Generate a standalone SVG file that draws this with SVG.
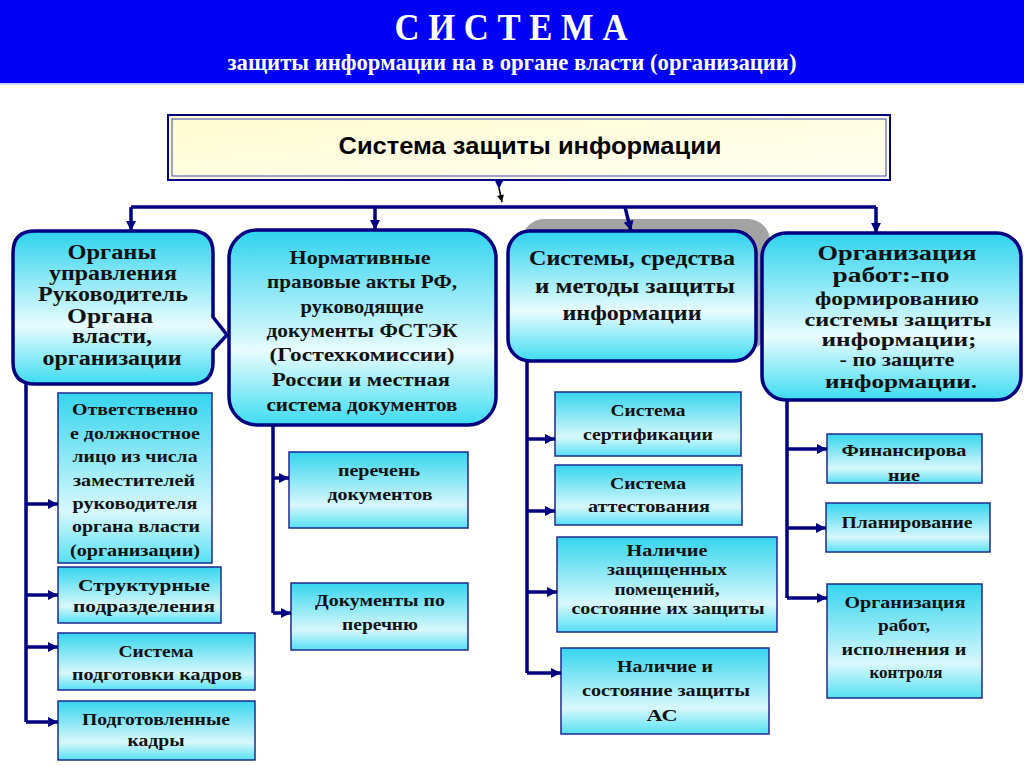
<svg xmlns="http://www.w3.org/2000/svg" width="1024" height="767" viewBox="0 0 1024 767">
<defs>
<linearGradient id="gMain" x1="0" y1="0" x2="0" y2="1">
<stop offset="0" stop-color="#2ED3EE"/>
<stop offset="0.62" stop-color="#E8FCFE"/>
<stop offset="1" stop-color="#3DDCF2"/>
</linearGradient>
<linearGradient id="gSmall" x1="0" y1="0" x2="0" y2="1">
<stop offset="0" stop-color="#35D5EE"/>
<stop offset="0.7" stop-color="#D8F8FC"/>
<stop offset="1" stop-color="#55E0F3"/>
</linearGradient>
<linearGradient id="gTop" x1="0" y1="0" x2="1" y2="1">
<stop offset="0" stop-color="#FFFBD0"/>
<stop offset="1" stop-color="#FFFFF2"/>
</linearGradient>
<marker id="arr" viewBox="0 0 10 10" refX="10" refY="5" markerWidth="11" markerHeight="10" markerUnits="userSpaceOnUse" orient="auto">
<path d="M0,0 L10,5 L0,10 z" fill="#000080"/>
</marker>
<marker id="arrB" viewBox="0 0 10 10" refX="10" refY="5" markerWidth="8" markerHeight="7" markerUnits="userSpaceOnUse" orient="auto">
<path d="M0,0 L10,5 L0,10 z" fill="#000"/>
</marker>
</defs>
<style>
.main{fill:url(#gMain);stroke:#000080;stroke-width:3.5}
.small{fill:url(#gSmall);stroke:#1E2A90;stroke-width:1.5}
.ts{font-family:"Liberation Serif","Times New Roman",serif;font-weight:bold;fill:#111;text-anchor:middle}
.s{font-size:17.5px}
.r3{font-size:16.5px}
.b2{font-size:19.5px}
.b3{font-size:22px}
.b4{font-size:18px}
.b1{font-size:20px}
.con{stroke:#000080;stroke-width:3.5;fill:none}
</style>
<rect x="0" y="0" width="1024" height="767" fill="#fff"/>
<g id="header">
<rect x="0" y="0" width="1024" height="83" fill="#0000F5"/>
<rect x="0" y="83" width="1024" height="2" fill="#C8D0F8"/>
<text x="511" y="40" font-family="Liberation Serif,serif" font-weight="bold" font-size="37" fill="#fff" text-anchor="middle" textLength="233" lengthAdjust="spacingAndGlyphs">С И С Т Е М А</text>
<text x="512" y="70" font-family="Liberation Serif,serif" font-weight="bold" font-size="24" fill="#fff" text-anchor="middle" textLength="569" lengthAdjust="spacingAndGlyphs">защиты информации на в органе власти (организации)</text>
</g>
<g id="top">
<rect x="168" y="115" width="722" height="65" fill="url(#gTop)" stroke="#000080" stroke-width="2"/>
<rect x="172" y="119" width="714" height="57" fill="none" stroke="#3A4AA8" stroke-width="1"/>
<text x="530" y="154" font-family="Liberation Sans,Arial,sans-serif" font-weight="bold" font-size="23" fill="#000" text-anchor="middle" textLength="383" lengthAdjust="spacingAndGlyphs">Система защиты информации</text>
</g>
<g id="box1">
<path class="main" d="M35,231 H191 Q213,231 213,253 V317 L227,335 L213,350 V362 Q213,384 191,384 H35 Q13,384 13,362 V253 Q13,231 35,231 Z"/>
<text class="ts b1" x="112" y="259" textLength="89" lengthAdjust="spacingAndGlyphs">Органы</text>
<text class="ts b1" x="113" y="280" textLength="128" lengthAdjust="spacingAndGlyphs">управления</text>
<text class="ts b1" x="113" y="301" textLength="150" lengthAdjust="spacingAndGlyphs">Руководитель</text>
<text class="ts b1" x="110" y="323" textLength="86" lengthAdjust="spacingAndGlyphs">Органа</text>
<text class="ts b1" x="112" y="343" textLength="80" lengthAdjust="spacingAndGlyphs">власти,</text>
<text class="ts b1" x="112" y="365" textLength="139" lengthAdjust="spacingAndGlyphs">организации</text>
</g>
<g id="box2">
<rect class="main" x="229" y="230" width="267" height="195" rx="28"/>
<text class="ts b2" x="360" y="264" textLength="141" lengthAdjust="spacingAndGlyphs">Нормативные</text>
<text class="ts b2" x="362" y="288" textLength="190" lengthAdjust="spacingAndGlyphs">правовые акты РФ,</text>
<text class="ts b2" x="362" y="313" textLength="123" lengthAdjust="spacingAndGlyphs">руководящие</text>
<text class="ts b2" x="362" y="337" textLength="191" lengthAdjust="spacingAndGlyphs">документы ФСТЭК</text>
<text class="ts b2" x="362" y="361" textLength="185" lengthAdjust="spacingAndGlyphs">(Гостехкомиссии)</text>
<text class="ts b2" x="361" y="386" textLength="178" lengthAdjust="spacingAndGlyphs">России и  местная</text>
<text class="ts b2" x="362" y="411" textLength="191" lengthAdjust="spacingAndGlyphs">система документов</text>
</g>
<g id="box3">
<rect x="522" y="219" width="248" height="130" rx="22" fill="#A3A3A3"/>
<rect class="main" x="508" y="231" width="248" height="130" rx="22"/>
<text class="ts b3" x="632" y="265" textLength="206" lengthAdjust="spacingAndGlyphs">Системы, средства</text>
<text class="ts b3" x="635" y="293" textLength="200" lengthAdjust="spacingAndGlyphs">и методы защиты</text>
<text class="ts b3" x="632" y="320" textLength="139" lengthAdjust="spacingAndGlyphs">информации</text>
</g>
<g id="box4">
<rect class="main" x="762" y="233" width="259" height="167" rx="24"/>
<text class="ts" font-size="21" x="897" y="260" textLength="159" lengthAdjust="spacingAndGlyphs">Организация</text>
<text class="ts" font-size="20" x="891" y="282" textLength="117" lengthAdjust="spacingAndGlyphs">работ:-по</text>
<text class="ts b4" x="897" y="305" textLength="164" lengthAdjust="spacingAndGlyphs">формированию</text>
<text class="ts b4" x="898" y="326" textLength="187" lengthAdjust="spacingAndGlyphs">системы защиты</text>
<text class="ts b4" x="899" y="346" textLength="155" lengthAdjust="spacingAndGlyphs">информации;</text>
<text class="ts b4" x="897" y="366" textLength="115" lengthAdjust="spacingAndGlyphs">- по защите</text>
<text class="ts b4" x="901" y="388" textLength="152" lengthAdjust="spacingAndGlyphs">информации.</text>
</g>
<g id="l1">
<rect class="small" x="58" y="393" width="154" height="170"/>
<text class="ts s" x="135" y="415" textLength="126" lengthAdjust="spacingAndGlyphs">Ответственно</text>
<text class="ts s" x="135" y="439" textLength="130" lengthAdjust="spacingAndGlyphs">е должностное</text>
<text class="ts s" x="135" y="462" textLength="125" lengthAdjust="spacingAndGlyphs">лицо из числа</text>
<text class="ts s" x="134" y="486" textLength="122" lengthAdjust="spacingAndGlyphs">заместителей</text>
<text class="ts s" x="135" y="509" textLength="125" lengthAdjust="spacingAndGlyphs">руководителя</text>
<text class="ts s" x="136" y="532" textLength="128" lengthAdjust="spacingAndGlyphs">органа власти</text>
<text class="ts s" x="135" y="556" textLength="130" lengthAdjust="spacingAndGlyphs">(организации)</text>
</g>
<g id="l2">
<rect class="small" x="58" y="567" width="163" height="56"/>
<text class="ts s" x="144" y="591" textLength="132" lengthAdjust="spacingAndGlyphs">Структурные</text>
<text class="ts s" x="144" y="612" textLength="142" lengthAdjust="spacingAndGlyphs">подразделения</text>
</g>
<g id="l3">
<rect class="small" x="58" y="633" width="197" height="57"/>
<text class="ts s" x="156" y="657" textLength="75" lengthAdjust="spacingAndGlyphs">Система</text>
<text class="ts s" x="157" y="680" textLength="170" lengthAdjust="spacingAndGlyphs">подготовки кадров</text>
</g>
<g id="l4">
<rect class="small" x="58" y="701" width="197" height="59"/>
<text class="ts s" x="156" y="725" textLength="148" lengthAdjust="spacingAndGlyphs">Подготовленные</text>
<text class="ts s" x="156" y="746" textLength="57" lengthAdjust="spacingAndGlyphs">кадры</text>
</g>
<g id="m1">
<rect class="small" x="289" y="452" width="179" height="76"/>
<text class="ts s" x="379" y="476" textLength="82" lengthAdjust="spacingAndGlyphs">перечень</text>
<text class="ts s" x="380" y="500" textLength="105" lengthAdjust="spacingAndGlyphs">документов</text>
</g>
<g id="m2">
<rect class="small" x="291" y="583" width="177" height="67"/>
<text class="ts s" x="380" y="606" textLength="130" lengthAdjust="spacingAndGlyphs">Документы по</text>
<text class="ts s" x="380" y="630" textLength="76" lengthAdjust="spacingAndGlyphs">перечню</text>
</g>
<g id="r1">
<rect class="small" x="555" y="392" width="186" height="64"/>
<text class="ts s" x="648" y="416" textLength="75" lengthAdjust="spacingAndGlyphs">Система</text>
<text class="ts s" x="648" y="440" textLength="130" lengthAdjust="spacingAndGlyphs">сертификации</text>
</g>
<g id="r2">
<rect class="small" x="555" y="465" width="187" height="60"/>
<text class="ts s" x="648" y="489" textLength="76" lengthAdjust="spacingAndGlyphs">Система</text>
<text class="ts s" x="649" y="512" textLength="122" lengthAdjust="spacingAndGlyphs">аттестования</text>
</g>
<g id="r3">
<rect class="small" x="557" y="537" width="220" height="95"/>
<text class="ts r3" x="667" y="556" textLength="81" lengthAdjust="spacingAndGlyphs">Наличие</text>
<text class="ts r3" x="667" y="575" textLength="120" lengthAdjust="spacingAndGlyphs">защищенных</text>
<text class="ts r3" x="667" y="595" textLength="105" lengthAdjust="spacingAndGlyphs">помещений,</text>
<text class="ts r3" x="668" y="614" textLength="193" lengthAdjust="spacingAndGlyphs">состояние их защиты</text>
</g>
<g id="r4">
<rect class="small" x="561" y="648" width="208" height="86"/>
<text class="ts s" x="665" y="672" textLength="96" lengthAdjust="spacingAndGlyphs">Наличие и</text>
<text class="ts s" x="666" y="696" textLength="168" lengthAdjust="spacingAndGlyphs">состояние защиты</text>
<text class="ts s" x="662" y="721" textLength="31" lengthAdjust="spacingAndGlyphs">АС</text>
</g>
<g id="f1">
<rect class="small" x="827" y="434" width="155" height="49"/>
<text class="ts s" x="904" y="456" textLength="125" lengthAdjust="spacingAndGlyphs">Финансирова</text>
<text class="ts s" x="904" y="481" textLength="32" lengthAdjust="spacingAndGlyphs">ние</text>
</g>
<g id="f2">
<rect class="small" x="826" y="503" width="164" height="49"/>
<text class="ts s" x="907" y="528" textLength="131" lengthAdjust="spacingAndGlyphs">Планирование</text>
</g>
<g id="f3">
<rect class="small" x="827" y="584" width="155" height="114"/>
<text class="ts s" x="905" y="608" textLength="121" lengthAdjust="spacingAndGlyphs">Организация</text>
<text class="ts s" x="904" y="631" textLength="52" lengthAdjust="spacingAndGlyphs">работ,</text>
<text class="ts s" x="904" y="655" textLength="125" lengthAdjust="spacingAndGlyphs">исполнения и</text>
<text class="ts s" x="906" y="678" textLength="73" lengthAdjust="spacingAndGlyphs">контроля</text>
</g>
<g id="connectors">
<path d="M495,181 L503,181 L499,189 z" fill="#000080"/>
<line x1="499" y1="188" x2="502" y2="202" stroke="#000" stroke-width="1.5" marker-end="url(#arrB)"/>
<line class="con" x1="131" y1="207" x2="876" y2="207"/>
<line class="con" x1="131" y1="207" x2="131" y2="231" marker-end="url(#arr)"/>
<line class="con" x1="375" y1="207" x2="375" y2="230" marker-end="url(#arr)"/>
<line class="con" x1="625" y1="207" x2="631" y2="231" marker-end="url(#arr)"/>
<line class="con" x1="876" y1="207" x2="876" y2="233" marker-end="url(#arr)"/>
<line class="con" x1="26" y1="384" x2="26" y2="722"/>
<line class="con" x1="26" y1="504" x2="58" y2="504" marker-end="url(#arr)"/>
<line class="con" x1="26" y1="595" x2="58" y2="595" marker-end="url(#arr)"/>
<line class="con" x1="26" y1="647" x2="58" y2="647" marker-end="url(#arr)"/>
<line class="con" x1="26" y1="722" x2="58" y2="722" marker-end="url(#arr)"/>
<line class="con" x1="273" y1="426" x2="273" y2="613"/>
<line class="con" x1="273" y1="478" x2="289" y2="478" marker-end="url(#arr)"/>
<line class="con" x1="273" y1="613" x2="291" y2="613" marker-end="url(#arr)"/>
<line class="con" x1="527" y1="362" x2="527" y2="673"/>
<line class="con" x1="527" y1="439" x2="555" y2="439" marker-end="url(#arr)"/>
<line class="con" x1="527" y1="511" x2="555" y2="511" marker-end="url(#arr)"/>
<line class="con" x1="527" y1="592" x2="557" y2="592" marker-end="url(#arr)"/>
<line class="con" x1="527" y1="673" x2="561" y2="673" marker-end="url(#arr)"/>
<line class="con" x1="787" y1="401" x2="787" y2="598"/>
<line class="con" x1="787" y1="449" x2="827" y2="449" marker-end="url(#arr)"/>
<line class="con" x1="787" y1="528" x2="826" y2="528" marker-end="url(#arr)"/>
<line class="con" x1="787" y1="598" x2="827" y2="598" marker-end="url(#arr)"/>
</g>
</svg>
